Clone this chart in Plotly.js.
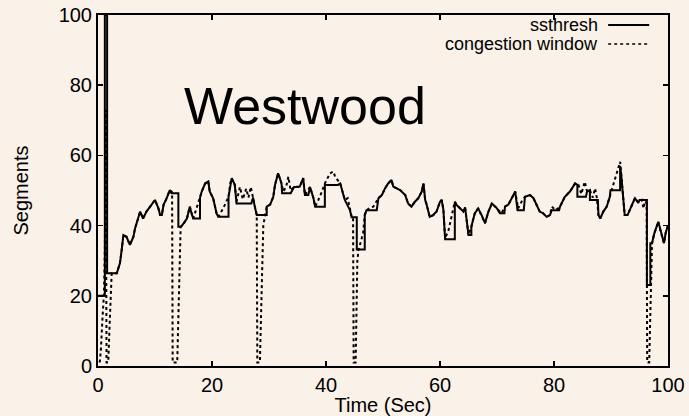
<!DOCTYPE html>
<html>
<head>
<meta charset="utf-8">
<script src="https://cdn.plot.ly/plotly-3.0.1.min.js"></script>
<style>
html,body{margin:0;padding:0;background:#FAF1E8;}
#chart{width:689px;height:416px;}
</style>
</head>
<body>
<div id="chart"></div>
<script>
// Time (s) and congestion window (segments)
const tCwnd = [
  0.3,0.5,0.8,1.05,1.2,1.3,1.35,1.5,1.8,2.0,
  2.2,2.4,3.3,3.55,3.85,4.15,4.45,5.0,5.6,6.2,
  6.5,7.4,7.9,8.5,9.1,10.0,10.6,10.9,11.2,11.5,
  12.05,12.6,13.0,13.1,13.9,14.1,14.3,14.5,15.0,15.6,
  16.1,16.4,16.7,17.3,17.9,18.2,18.8,19.35,19.6,20.2,
  20.8,21.1,22.0,22.9,23.2,23.45,24.0,24.3,24.9,25.4,
  26.0,26.4,26.8,27.1,27.5,27.85,27.95,28.4,28.6,28.8,
  29.0,29.6,30.2,30.75,31.05,31.6,32.2,32.5,33.0,33.4,
  33.8,34.4,35.4,36.0,36.3,37.2,37.8,38.1,39.0,39.8,
  40.7,41.3,41.6,42.5,43.3,43.8,44.2,44.5,44.75,44.85,
  45.2,45.3,45.5,45.7,46.5,46.8,47.1,47.7,48.3,49.2,
  49.8,50.35,50.9,51.5,51.8,52.4,53.0,53.9,54.4,55.0,
  55.6,56.2,56.8,57.1,57.4,57.6,58.2,58.8,59.4,60.0,
  60.3,60.6,60.9,61.5,62.0,62.6,62.9,63.5,64.1,64.4,
  64.7,65.0,65.5,66.1,66.7,67.3,67.9,68.5,69.1,70.0,
  70.8,71.4,72.0,72.6,73.2,73.7,74.3,74.9,75.8,76.4,
  76.95,77.5,78.1,78.7,79.3,79.6,80.3,81.05,81.9,82.8,
  83.7,84.3,84.8,85.4,85.8,86.3,86.8,87.2,87.5,87.8,
  88.1,88.65,89.25,89.8,90.4,91.0,91.6,91.8,92.1,92.4,
  92.9,93.6,94.2,94.8,95.4,95.7,96.0,96.25,96.35,96.7,
  96.85,96.95,97.2,97.6,98.3,98.6,99.0,99.3,99.6,100
];
const cwnd = [
  1,4.5,14,20.7,33,64,73,1,1,10,
  20,26.4,26.4,27.8,29.3,33,37.3,36.8,34.5,36.8,
  39.2,44,42,44,45.4,47.3,44.9,43,43,45.9,
  47.8,50.1,49.5,1,1,15,27,39.7,40.5,42,
  45.4,43.5,42,45,48,49.7,52,52.6,49.7,47.8,
  43.5,42.5,45,48.2,52,53.5,51.6,46.8,51,47.5,
  50.5,48,51,48.5,45.4,43,1,1,14,27,
  40,45.4,46,48.2,51.6,54.9,52,49.7,51,53.9,
  50,51,51.1,53.5,48.7,51,47.8,45.4,48.5,52,
  54.9,55.4,53.9,52,47.3,47.8,44.4,42.5,42.5,1,
  1,14,30,33,37.8,43,44.4,45,45.4,47.8,
  48.7,50.6,52,53,51.1,50.6,50.1,48.7,46.3,45.4,
  46.8,47.8,49.7,52,47.3,46.3,42.5,43,44,46.8,
  47.3,44.4,36.4,38.7,42.1,46.8,45.9,45,44,45.2,
  41.6,37.3,39.7,43.5,44.9,43,40.7,44,46.3,44.9,
  43.5,45.4,46,47.8,49.7,44.9,46.8,48.2,48.7,47.8,
  45.9,44,43.5,42.5,43,45.4,44.4,45.4,48.2,49.7,
  52,51.6,49,52.5,49.7,50.1,48,50.6,48,43,
  42,44,45.4,48.2,51.6,54.9,58.2,54.4,48.2,43,
  43,45.4,47.8,46.5,47.3,44.9,47,46.5,1,1,
  13,24.5,35,37.8,41.1,39,36.8,35,38,40
];
// Time (s) and slow-start threshold (segments)
const tSsthresh = [
  0,1.2,1.2,1.6,1.6,3.3,3.55,3.85,4.15,4.45,
  5.0,5.6,6.2,6.5,7.4,7.9,8.5,9.1,10.0,10.6,
  10.9,11.2,11.5,12.05,12.6,12.9,14.1,14.1,14.6,15.6,
  16.1,16.4,16.7,17.9,17.9,18.2,18.8,19.35,19.6,20.2,
  20.8,21.1,22.9,22.9,23.2,23.45,24.0,24.3,26.9,27.2,
  27.5,27.85,29.6,29.6,30.2,30.75,31.05,31.6,32.2,32.3,
  33.8,34.4,35.4,36.0,36.3,36.9,37.2,37.8,38.1,39.8,
  39.8,41.6,42.1,42.5,43.3,44.2,44.5,45.4,45.4,46.8,
  46.8,47.1,48.9,49.2,49.8,50.35,50.9,51.5,51.8,52.4,
  53.0,53.9,54.4,55.0,55.6,56.2,56.8,57.1,57.4,57.6,
  58.2,58.8,59.4,60.0,60.3,60.6,60.9,62.6,62.6,62.9,
  63.5,64.1,64.4,64.7,65.0,65.5,65.5,66.1,66.7,67.3,
  67.9,68.5,69.1,70.0,70.5,71.3,71.4,72.0,72.6,73.2,
  73.6,74.7,74.9,75.8,76.4,76.95,77.5,78.1,78.7,79.3,
  79.6,80.9,81.05,81.9,82.8,83.7,84.1,84.1,85.6,85.8,
  86.3,86.3,87.7,87.8,88.1,88.65,89.25,89.8,89.9,91.6,
  91.6,91.8,92.1,92.4,92.9,93.6,94.2,94.8,95.0,96.3,
  96.3,96.9,96.9,97.2,97.6,98.3,98.6,99.0,99.3,99.6,
  100
];
const ssthresh = [
  20,20,100,100,26.4,26.4,27.8,29.3,33,37.3,
  36.8,34.5,36.8,39.2,44,42,44,45.4,47.3,44.9,
  43,43,45.9,47.8,50.1,49.2,49.2,39.7,39.7,42,
  45.4,43.5,42,42,48,49.7,52,52.6,49.7,47.8,
  43.5,42.5,42.5,48.2,52,53.5,51.6,46.3,46.3,48,
  45.4,43,43,45.4,46,48.2,51.6,54.9,52,49.2,
  49.2,51,51.1,53.5,48.7,48.7,51,47.8,45.4,45.4,
  51.6,51.6,51.6,52,47.3,44.4,42.4,42.4,33.2,33.2,
  43,44.4,44.4,47.8,48.7,50.6,52,53,51.1,50.6,
  50.1,48.7,46.3,45.4,46.8,47.8,49.7,52,47.3,46.3,
  42.5,43,44,46.8,47.3,44.4,36.1,36.1,46.8,45.9,
  45,44,45.2,41.6,37.3,37.3,39.7,43.5,44.9,43,
  40.7,44,46.3,44.9,43.5,43.5,45.4,46,47.8,49.7,
  44.4,44.4,48.2,48.7,47.8,45.9,44,43.5,42.5,43,
  44.4,44.4,45.4,48.2,49.7,52,51.6,48.2,48.2,49.7,
  50.1,47.3,47.3,43,42,44,45.4,48.2,50.1,50.1,
  57,54.4,48.2,43,43,45.4,47.8,46.5,47.3,47.3,
  23.1,23.1,35,35,37.8,41.1,39,36.8,35,38,
  40
];
const tickValues = [0,20,40,60,80,100];
const seriesNames = ['ssthresh','congestion window'];
const chartTitle = 'Westwood';

const bg = '#FAF1E8';
const font = 'Liberation Sans, Arial, Helvetica, sans-serif';

const traces = [
  {x: tSsthresh, y: ssthresh, type:'scatter', mode:'lines', name: seriesNames[0],
   line:{color:'#000', width:2, dash:'solid'}, showlegend:false},
  {x: tCwnd, y: cwnd, type:'scatter', mode:'lines', name: seriesNames[1],
   line:{color:'#000', width:2, dash:'dot'}, showlegend:false}
];

const axisCommon = {
  range:[0,100], tickvals: tickValues, ticks:'inside', ticklen:5, tickwidth:1.5, tickcolor:'#000',
  showline:true, linecolor:'#000', linewidth:2, mirror:'ticks', showgrid:false, zeroline:false,
  tickfont:{family:font, size:20, color:'#000'}
};

const layout = {
  width:689, height:416,
  margin:{l:98, r:21, t:15, b:50, pad:0},
  paper_bgcolor:bg, plot_bgcolor:bg,
  showlegend:false,
  xaxis: Object.assign({}, axisCommon, {title:{text:'Time (Sec)', font:{family:font, size:20, color:'#000'}, standoff:2}}),
  yaxis: Object.assign({}, axisCommon, {title:{text:'Segments', font:{family:font, size:20, color:'#000'}, standoff:25}}),
  annotations:[
    {xref:'paper', yref:'paper', x:0.363, y:0.741, text:chartTitle, showarrow:false,
     font:{family:font, size:52, color:'#000'}, xanchor:'center', yanchor:'middle'},
    {xref:'paper', yref:'paper', x:0.879, y:0.9715, text:seriesNames[0], showarrow:false, borderpad:0,
     font:{family:font, size:18, color:'#000'}, xanchor:'right', yanchor:'middle'},
    {xref:'paper', yref:'paper', x:0.879, y:0.9174, text:seriesNames[1], showarrow:false, borderpad:0,
     font:{family:font, size:18, color:'#000'}, xanchor:'right', yanchor:'middle'}
  ],
  shapes:[
    {type:'line', xref:'paper', yref:'paper', x0:0.895, x1:0.967, y0:0.9715, y1:0.9715, line:{color:'#000', width:2}},
    {type:'line', xref:'paper', yref:'paper', x0:0.895, x1:0.967, y0:0.9174, y1:0.9174, line:{color:'#000', width:1.5, dash:'dot'}}
  ]
};

Plotly.newPlot('chart', traces, layout, {displayModeBar:false, staticPlot:true});
</script>
</body>
</html>
